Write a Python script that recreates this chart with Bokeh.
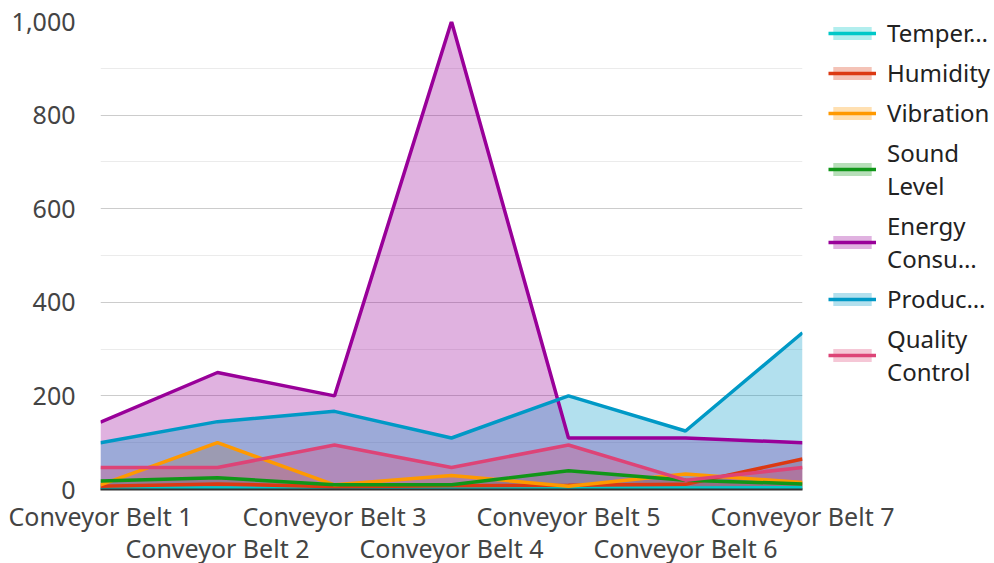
from bokeh.plotting import figure
from bokeh.models import (ColumnDataSource, FixedTicker, LinearAxis, Legend, LegendItem,
                          NumeralTickFormatter, Range1d)
from bokeh.embed import file_html
from bokeh.resources import INLINE

categories = ["Conveyor Belt 1", "Conveyor Belt 2", "Conveyor Belt 3", "Conveyor Belt 4",
              "Conveyor Belt 5", "Conveyor Belt 6", "Conveyor Belt 7"]
temperature = [3, 3, 2, 2, 3, 3, 4]
humidity = [7, 12, 6, 8, 9, 11, 65]
vibration = [10, 100, 10, 30, 7, 33, 15]
sound_level = [18, 25, 10, 10, 40, 20, 12]
energy_consumption = [144, 250, 200, 1000, 110, 110, 100]
production_rate = [100, 145, 167, 110, 200, 125, 335]
quality_control = [47, 47, 95, 47, 95, 20, 47]

series_labels = ["Temper…", "Humidity", "Vibration", "Sound\nLevel",
                 "Energy\nConsu…", "Produc…", "Quality\nControl"]
series_values = [temperature, humidity, vibration, sound_level,
                 energy_consumption, production_rate, quality_control]
colors = ["#00c8c8", "#dc3912", "#ff9900", "#109618", "#990099", "#0099c6", "#dd4477"]

y_ticks = [0, 200, 400, 600, 800, 1000]
y_minor = [100, 300, 500, 700, 900]

FONT = "Noto Sans"
FS = "25px"

xs = list(range(len(categories)))
data = {"x": xs}
for i, vals in enumerate(series_values):
    data[f"s{i}"] = vals
source = ColumnDataSource(data)

p = figure(width=994, height=563, output_backend="svg", toolbar_location=None,
           x_range=Range1d(0, len(categories) - 1), y_range=Range1d(0, 1000),
           frame_width=702, frame_height=468,
           min_border_left=100, min_border_top=21, min_border_bottom=70, min_border_right=0)
p.outline_line_color = None
p.background_fill_color = "white"

area_rs = []
for i, c in enumerate(colors):
    area_rs.append(p.varea(x="x", y1=0, y2=f"s{i}", source=source,
                           fill_color=c, fill_alpha=0.3))
line_rs = []
for i, c in enumerate(colors):
    line_rs.append(p.line(x="x", y=f"s{i}", source=source, line_color=c, line_width=3.5))

# axes
p.xgrid.grid_line_color = None
p.yaxis.ticker = FixedTicker(ticks=y_ticks, minor_ticks=y_minor)
p.yaxis.formatter = NumeralTickFormatter(format="0,0")
p.yaxis.axis_line_color = None
p.yaxis.major_tick_line_color = None
p.yaxis.minor_tick_line_color = None
p.yaxis.major_tick_out = 0
p.yaxis.minor_tick_out = 0
p.yaxis.major_label_standoff = 25
p.yaxis.major_label_text_font = FONT
p.yaxis.major_label_text_font_size = FS
p.yaxis.major_label_text_color = "#444444"
p.ygrid.grid_line_color = "#cccccc"
p.ygrid.grid_line_width = 1
p.ygrid.minor_grid_line_color = "#ebebeb"

odd = [i for i in xs if i % 2 == 0]
even = [i for i in xs if i % 2 == 1]
p.xaxis.ticker = FixedTicker(ticks=odd)
p.xaxis.major_label_overrides = {i: categories[i] for i in odd}
p.xaxis.axis_line_color = "#333333"
p.xaxis.axis_line_width = 2
p.xaxis.major_tick_line_color = None
p.xaxis.minor_tick_line_color = None
p.xaxis.major_tick_out = 0
p.xaxis.minor_tick_out = 0
p.xaxis.major_label_standoff = 9
p.xaxis.major_label_text_font = FONT
p.xaxis.major_label_text_font_size = FS
p.xaxis.major_label_text_color = "#444444"

ax2 = LinearAxis(ticker=FixedTicker(ticks=even),
                 major_label_overrides={i: categories[i] for i in even})
ax2.axis_line_color = None
ax2.major_tick_line_color = None
ax2.minor_tick_line_color = None
ax2.major_tick_out = 0
ax2.minor_tick_out = 0
ax2.major_label_standoff = -5
ax2.major_label_text_font = FONT
ax2.major_label_text_font_size = FS
ax2.major_label_text_color = "#444444"
p.add_layout(ax2, "below")

items = [LegendItem(label=series_labels[i], renderers=[area_rs[i], line_rs[i]])
         for i in range(len(colors))]
legend = Legend(items=items, location=(26, 101))
legend.margin = 0
legend.padding = 0
legend.border_line_color = None
legend.background_fill_alpha = 0
legend.glyph_width = 48
legend.glyph_height = 16
legend.label_standoff = 11
legend.spacing = 7
legend.label_text_font = FONT
legend.label_text_font_size = "24px"
legend.label_text_color = "#222222"
legend.label_text_line_height = 1.26
p.add_layout(legend, "right")

open("out.html", "w").write(file_html(p, INLINE))
